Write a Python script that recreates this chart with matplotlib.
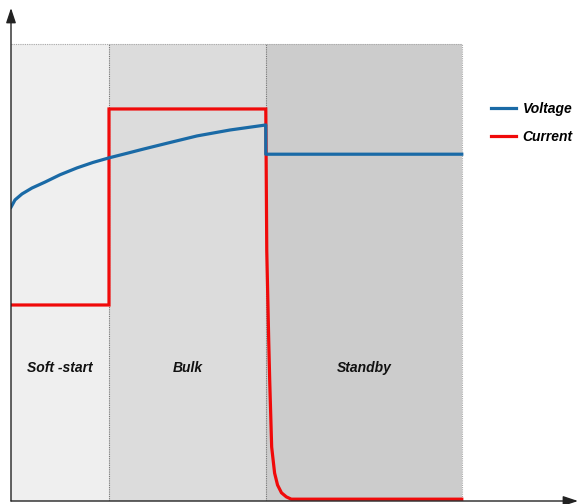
import matplotlib
matplotlib.use("Agg")
from matplotlib import pyplot as plt

# phase boundaries (time units) and labels
phase_edges = [0.0, 1.0, 2.6, 4.6]
phase_names = ['Soft -start', 'Bulk', 'Standby']
phase_colors = ['#efefef', '#dcdcdc', '#cccccc']

# voltage
volt_t = [0.0, 0.041, 0.112, 0.214, 0.347, 0.5, 0.673, 0.837, 1.0, 1.184, 1.347,
          1.592, 1.898, 2.235, 2.6, 2.6, 4.6]
volt_v = [0.643, 0.659, 0.672, 0.685, 0.698, 0.714, 0.729, 0.741, 0.751, 0.761, 0.770,
          0.783, 0.799, 0.812, 0.823, 0.759, 0.759]

# current
curr_t = [0.0, 1.0, 1.0, 2.6, 2.61, 2.63, 2.64, 2.66, 2.69, 2.72, 2.76, 2.81, 2.86, 4.6]
curr_v = [0.429, 0.429, 0.858, 0.858, 0.547, 0.35, 0.264, 0.118, 0.061, 0.035, 0.018, 0.009, 0.004, 0.004]

fig = plt.figure(figsize=(5.8, 5.04), dpi=100)
ax = fig.add_axes([11 / 580, 3 / 504, 567 / 580, 493 / 504])
ax.set_xlim(0, 5.786)
ax.set_ylim(0, 1.079)
ax.axis('off')

for i in range(3):
    ax.axvspan(phase_edges[i], phase_edges[i + 1], ymin=0, ymax=1 / 1.079,
               color=phase_colors[i], lw=0, zorder=0)
    ax.text((phase_edges[i] + phase_edges[i + 1]) / 2, 0.29, phase_names[i],
            ha='center', va='center', fontsize=10, fontweight='bold',
            style='italic', family='Liberation Sans', color='#111111')

# dotted borders
for x in phase_edges[1:3]:
    ax.plot([x, x], [0, 1], ls=(0, (1, 1)), color='#777777', lw=0.8, zorder=1)
ax.plot([phase_edges[-1], phase_edges[-1]], [0, 1], ls=(0, (1, 1)), color='#aaaaaa', lw=0.8, zorder=1)
ax.plot([0, phase_edges[-1]], [1, 1], ls=(0, (1, 1)), color='#aaaaaa', lw=0.8, zorder=1)

ax.plot(volt_t, volt_v, color='#1a6aa6', lw=2.3, label='Voltage', zorder=3,
        solid_joinstyle='round')
ax.plot(curr_t, curr_v, color='#f00a0a', lw=2.3, label='Current', zorder=2,
        solid_joinstyle='miter')

# axes with arrows
arrow = dict(arrowstyle='-|>,head_length=0.9,head_width=0.3', color='#222222', lw=1.0,
             shrinkA=0, shrinkB=0)
ax.annotate('', xy=(0, 1), xytext=(0, 0), xycoords='axes fraction', arrowprops=arrow)
ax.annotate('', xy=(1, 0), xytext=(0, 0), xycoords='axes fraction', arrowprops=arrow)

leg = ax.legend(loc='upper left', bbox_to_anchor=(0.825, 0.834), frameon=False,
                handlelength=1.8, handletextpad=0.45, labelspacing=0.95,
                prop={'family': 'Liberation Sans', 'weight': 'bold',
                      'style': 'italic', 'size': 10})

fig.savefig('out.png', dpi=100)
